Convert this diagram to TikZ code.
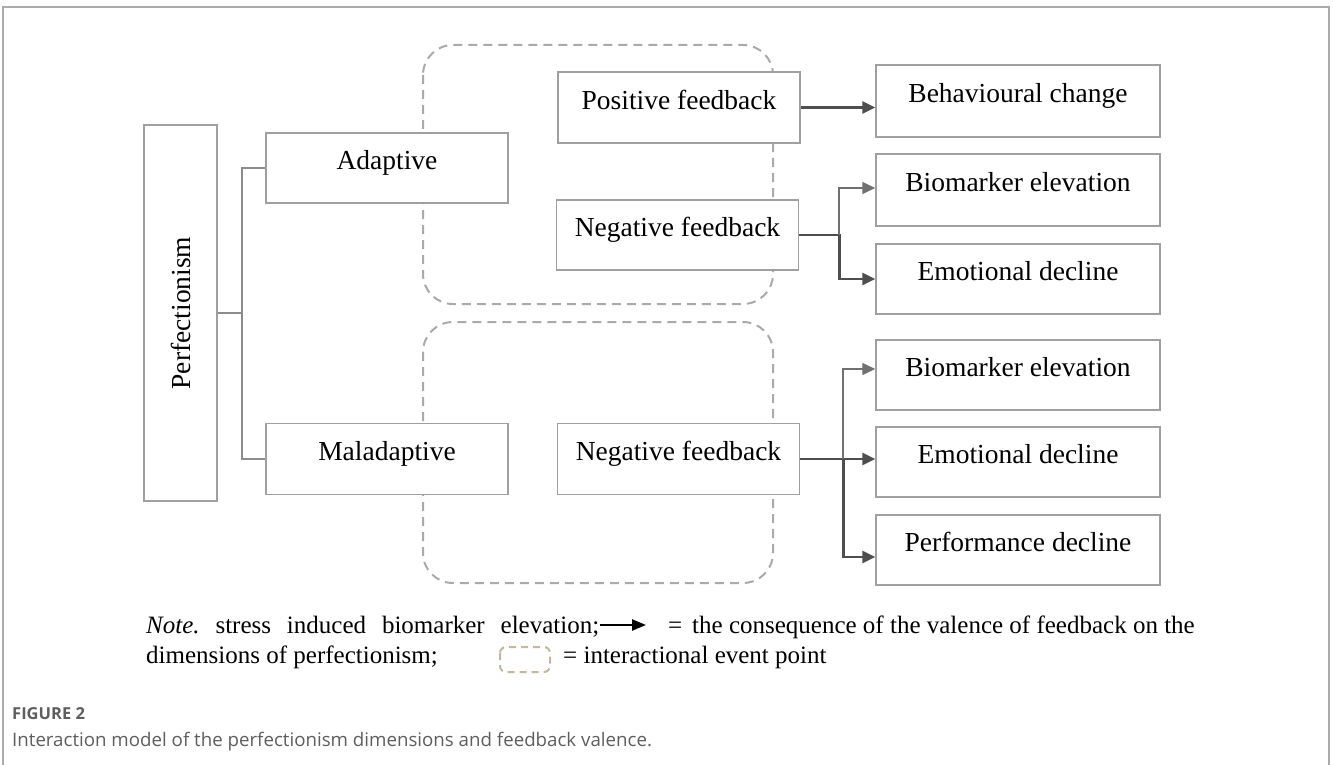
\documentclass[tikz,border=0pt]{standalone}
\usepackage{fontspec}
\setmainfont{Liberation Serif}
\newfontfamily\capfont{Open Sans}
\usetikzlibrary{arrows.meta}
\definecolor{boxgray}{HTML}{A0A0A0}
\definecolor{linegray}{HTML}{8C8C8C}
\definecolor{arrgray}{HTML}{4E4E4E}
\definecolor{arrlight}{HTML}{707070}
\definecolor{dashgray}{HTML}{AAAAAA}
\definecolor{legtan}{HTML}{C4B89C}
\definecolor{capgray}{HTML}{5E5E5E}
\definecolor{framegray}{HTML}{ABABAB}
\begin{document}
\begin{tikzpicture}[x=1pt,y=-1pt,
  box/.style={draw=boxgray, line width=1.5pt, fill=white, inner sep=0pt,
    font=\fontsize{27.5}{30}\selectfont, text height=0.62em, text depth=0.3em},
  pbox/.style={draw=boxgray, line width=1.5pt, fill=white, inner sep=0pt,
    font=\fontsize{27.5}{30}\selectfont},
  midbox/.style={box, minimum width=242pt, minimum height=71pt},
  outbox/.style={box, minimum width=284pt, minimum height=71pt},
  zone/.style={draw=dashgray, line width=2pt, dash pattern=on 9pt off 6pt, rounded corners=30pt},
  tree/.style={draw=linegray, line width=2pt},
  arrthick/.style={draw=arrgray, line width=2.6pt, -{Triangle[length=13pt,width=12pt]}},
  arrthin/.style={draw=arrlight, line width=1.6pt, -{Triangle[length=13pt,width=12pt]}},
  notetext/.style={anchor=base west, inner sep=0pt, font=\fontsize{25}{30}\selectfont\frenchspacing},
]
\useasboundingbox (0,0) rectangle (1333,765);
% frame
\draw[framegray, line width=1.5pt] (3,765) -- (3,7) -- (1329,7) -- (1329,765);
% interaction zones
\draw[zone] (423,45) rectangle (773,304);
\draw[zone] (423,322) rectangle (773,583);
% nodes
\node[pbox, minimum width=73pt, minimum height=376pt] (P) at (180.5,313) {\rotatebox{90}{Perfectionism}\hspace{14pt}};
\node[box, minimum width=242pt, minimum height=70pt] (A) at (387,168) {Adaptive};
\node[box, minimum width=242pt, minimum height=71pt] (M) at (387,459) {Maladaptive};
\node[midbox] (PF) at (679,107.5) {Positive feedback};
\node[midbox, minimum height=70pt] (NF1) at (677.5,235) {Negative feedback};
\node[midbox] (NF2) at (678.5,459) {Negative feedback};
\node[outbox, minimum height=72pt] (BC) at (1018,101) {Behavioural change};
\node[outbox, minimum height=72pt] (BE1) at (1018,190) {Biomarker elevation};
\node[outbox, minimum height=70pt] (ED1) at (1018,279) {Emotional decline};
\node[outbox, minimum height=70pt] (BE2) at (1018,375) {Biomarker elevation};
\node[outbox, minimum height=70pt] (ED2) at (1018,462) {Emotional decline};
\node[outbox, minimum height=70pt] (PD) at (1018,550) {Performance decline};
% tree from perfectionism
\draw[tree] (P.east) -- ++(24,0) coordinate (j);
\draw[tree] (A.west) -| (j) |- (M.west);
% feedback arrows
\draw[arrthick] (PF.east) -- (PF.east -| BC.west);
\draw[arrthick] (NF1.east) -- ++(40,0) coordinate (k1) |- (ED1.west);
\draw[arrthin] (k1) |- ([yshift=2pt]BE1.west);
\draw[arrthick] (NF2.east) -- (NF2.east -| ED2.west);
\coordinate (k2) at ([xshift=43pt]NF2.east);
\draw[arrthin] (k2) |- ([yshift=6pt]BE2.west);
\draw[arrthick] (k2) |- ([yshift=-7pt]PD.west);
% note
\node[notetext] (n1) at (146,633) {\makebox[453pt][s]{\textit{Note.} stress induced biomarker elevation;}};
\coordinate (la) at (600,625);
\coordinate (lb) at (646,625);
\draw[black, line width=2.4pt, -{Triangle[length=14pt,width=11pt]}] (la) -- (lb);
\node[notetext] (n2) at (668,633) {=};
\node[notetext] (n3) at (692,633) {the consequence of the valence of feedback on the};
\node[notetext] (n4) at (146,663) {dimensions of perfectionism;};
\draw[legtan, line width=2pt, dash pattern=on 7pt off 5pt, rounded corners=6pt] (500,647) rectangle (550,672);
\node[notetext] (n5) at (563,663) {= interactional event point};
% caption
\node[anchor=west, inner sep=0pt, text=capgray, font=\capfont\fontsize{16.5}{18}\selectfont\bfseries] (fig) at (12,714) {FIGURE 2};
\node[anchor=west, inner sep=0pt, text=capgray, font=\capfont\fontsize{18.7}{22}\selectfont] (cap) at (12,742) {Interaction model of the perfectionism dimensions and feedback valence.};
\end{tikzpicture}
\end{document}
